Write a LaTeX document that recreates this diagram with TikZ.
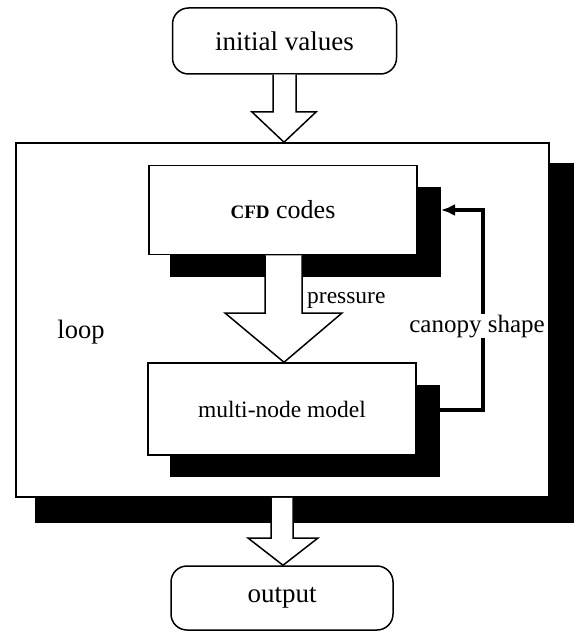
\documentclass[tikz,border=0pt]{standalone}
\usepackage{fontspec}
\setmainfont{Liberation Serif}
\usetikzlibrary{arrows.meta}
\begin{document}
\begin{tikzpicture}[x=1pt,y=-1pt,
  term/.style={draw, line width=1.5pt, rounded corners=16pt, fill=white, minimum width=224pt, minimum height=66pt, inner sep=0pt, font=\fontsize{27}{27}\selectfont},
  proc/.style={draw, line width=1.5pt, fill=white, inner sep=0pt, font=\fontsize{23.5}{23.5}\selectfont},
  blockarrow/.style={draw, line width=1.5pt, fill=white, line join=miter},
  lbl/.style={inner sep=1pt, font=\fontsize{24}{24}\selectfont}
]
\useasboundingbox (0,0) rectangle (574,631);
% loop frame with shadow
\fill[black] (35,163) rectangle (574,523);
\node[draw, line width=1.5pt, fill=white, minimum width=533pt, minimum height=354pt, inner sep=0pt] (loop) at (282.5,320) {};
\node[lbl, font=\fontsize{26.5}{26.5}\selectfont] (looplbl) at (81,332) {loop};
% CFD box
\fill[black] (170,187) rectangle (441,277);
\node[proc, minimum width=268pt, minimum height=89pt, font=\fontsize{26}{26}\selectfont] (cfd) at (283,210) {{\bfseries\fontsize{19}{19}\selectfont CFD} codes};
% multi-node model box
\fill[black] (170,385) rectangle (440,477);
\node[proc, minimum width=268pt, minimum height=92pt] (mnm) at (282,409) {multi-node model};
% initial values
\node[term] (init) at (284.5,41) {initial values};
% output
\node[term, minimum width=222pt, minimum height=64pt] (out) at (282,598) {output};
% block arrow initial -> loop
\draw[blockarrow] (init.south -| 273,0) -- (273,112) -- (252,112) -- (loop.north -| 284,0) -- (316,112) -- (296,112) -- (init.south -| 296,0);
% block arrow cfd -> mnm
\draw[blockarrow] (cfd.south -| 265,0) -- (265,313) -- (225,313) -- (mnm.north -| 284,0) -- (342,313) -- (302,313) -- (cfd.south -| 302,0);
% block arrow loop -> output
\draw[blockarrow] (loop.south -| 271,0) -- (271,538) -- (248,538) -- (out.north -| 283,0) -- (318,538) -- (293,538) -- (loop.south -| 293,0);
\node[lbl, anchor=base west, font=\fontsize{23.5}{23.5}\selectfont] (press) at (306,303) {pressure};
% feedback connector
\coordinate (fbstart) at (440,410);
\coordinate (fbend) at (441,210);
\draw[line width=4pt, -{Latex[length=14pt,width=12pt]}] (fbstart) -- (483,410) -- (483,210) -- (fbend);
\node[lbl, fill=white, anchor=base, font=\fontsize{25}{25}\selectfont] (canopy) at (477,332) {canopy shape};
\end{tikzpicture}
\end{document}
